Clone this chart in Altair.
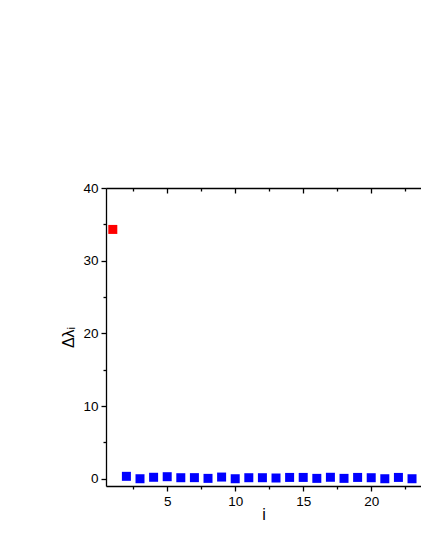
import altair as alt
import pandas as pd

# data
idx = list(range(1, 25))
delta = [34.3, 0.33, 0.0, 0.2, 0.28, 0.14, 0.15, 0.05, 0.23, 0.0, 0.14, 0.14,
         0.1, 0.18, 0.18, 0.05, 0.2, 0.05, 0.18, 0.14, 0.0, 0.18, 0.0, 0.1]
group = ["first"] + ["rest"] * 23

x_major = [5, 10, 15, 20]
x_minor = [2.5, 7.5, 12.5, 17.5, 22.5]
y_major = [0, 10, 20, 30, 40]
y_minor = [5, 15, 25, 35]

df = pd.DataFrame({"i": idx, "d": delta, "g": group})

FONT = "Liberation Sans"
xs = alt.Scale(domain=[0.5, 23.66], nice=False, zero=False)
ys = alt.Scale(domain=[-1, 40], nice=False, zero=False)

base = alt.Chart(df)

pts = base.mark_square(size=81, opacity=1, clip=True).encode(
    x=alt.X("i:Q", scale=xs, axis=alt.Axis(orient="bottom", values=x_major, tickSize=5,
             tickColor="black", domainColor="black", labelColor="black", labelFont=FONT,
             labelFontSize=13.5, title="i", titleFont=FONT, titleFontSize=16,
             titleFontWeight="normal", titleColor="black", grid=False, labelPadding=3,
             titlePadding=-1, domainWidth=1.3, tickWidth=1.3, labelFlush=False)),
    y=alt.Y("d:Q", scale=ys, axis=alt.Axis(orient="left", values=y_major, tickSize=5,
             tickColor="black", domainColor="black", labelColor="black", labelFont=FONT,
             labelFontSize=13.5, title="Δλᵢ", titleFont=FONT, titleFontSize=16,
             titleFontWeight="normal", titleColor="black", grid=False, labelPadding=3,
             titlePadding=6, domainWidth=1.3, tickWidth=1.3, labelFlush=False)),
    color=alt.Color("g:N", scale=alt.Scale(domain=["first", "rest"], range=["#FF0000", "#0000FF"]),
                    legend=None),
)

def ghost(xaxis, yaxis):
    return base.mark_point(opacity=0).encode(
        x=alt.X("i:Q", scale=xs, axis=xaxis),
        y=alt.Y("d:Q", scale=ys, axis=yaxis),
    )

minor = ghost(
    alt.Axis(orient="bottom", values=x_minor, tickSize=3, labels=False, domain=False,
             title=None, grid=False, tickColor="black", tickWidth=1.3),
    alt.Axis(orient="left", values=y_minor, tickSize=3, labels=False, domain=False,
             title=None, grid=False, tickColor="black", tickWidth=1.3),
)
top_major = ghost(
    alt.Axis(orient="top", values=x_major, tickSize=5, offset=-5, labels=False, domain=False,
             title=None, grid=False, tickColor="black", tickWidth=1.3),
    None,
)
top_minor = ghost(
    alt.Axis(orient="top", values=x_minor, tickSize=3, offset=-3, labels=False, domain=False,
             title=None, grid=False, tickColor="black", tickWidth=1.3),
    None,
)
top_line = ghost(
    alt.Axis(orient="top", ticks=False, labels=False, domain=True, domainColor="black",
             domainWidth=1.3, title=None, grid=False),
    None,
)

chart = alt.layer(pts, minor, top_major, top_minor, top_line).resolve_axis(
    x="independent", y="independent"
).properties(
    width=315, height=298,
    autosize=alt.AutoSizeParams(type="none"),
    padding={"left": 98, "top": 180, "right": 0, "bottom": 60},
).configure_view(stroke=None).configure(background="white")

chart.save("out.html", embed_options={"renderer": "svg", "actions": False})
